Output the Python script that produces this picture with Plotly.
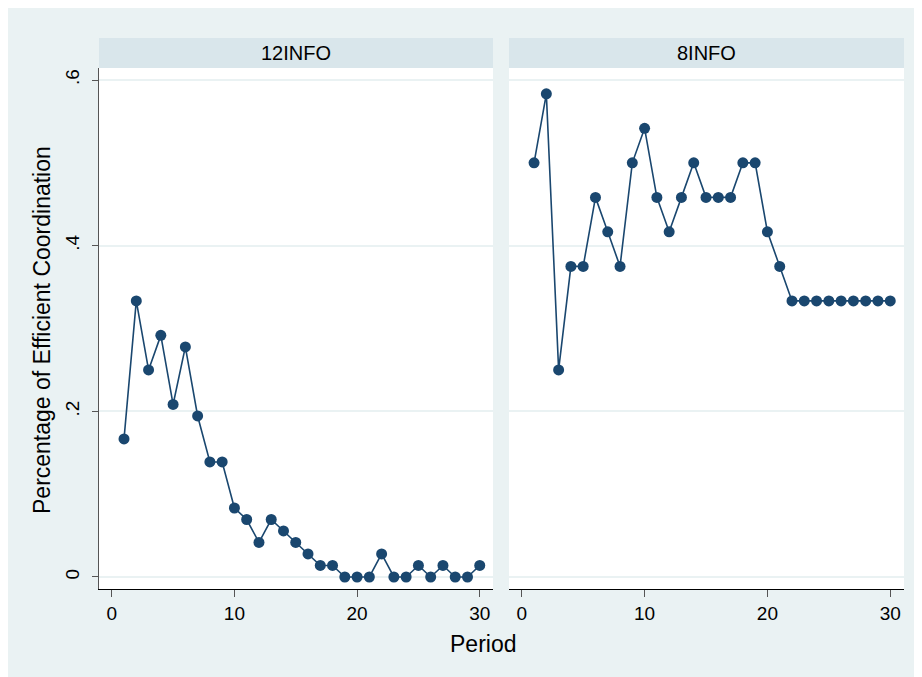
import plotly.graph_objects as go

periods = list(range(1, 31))
info12 = [0.1667, 0.3333, 0.25, 0.2917, 0.2083, 0.2778, 0.1944, 0.1389, 0.1389, 0.0833,
          0.0694, 0.0417, 0.0694, 0.0556, 0.0417, 0.0278, 0.0139, 0.0139, 0.0, 0.0,
          0.0, 0.0278, 0.0, 0.0, 0.0139, 0.0, 0.0139, 0.0, 0.0, 0.0139]
info8 = [0.5, 0.5833, 0.25, 0.375, 0.375, 0.4583, 0.4167, 0.375, 0.5, 0.5417,
         0.4583, 0.4167, 0.4583, 0.5, 0.4583, 0.4583, 0.4583, 0.5, 0.5, 0.4167,
         0.375, 0.3333, 0.3333, 0.3333, 0.3333, 0.3333, 0.3333, 0.3333, 0.3333, 0.3333]
panel_titles = ["12INFO", "8INFO"]
y_ticks = [0, 0.2, 0.4, 0.6]
y_ticklabels = ["0", ".2", ".4", ".6"]
x_ticks = [0, 10, 20, 30]

NAVY = "#1a476f"
BG = "#eaf2f3"
STRIP = "#d9e6eb"
GRID = "#eaf2f3"
FONT = "Liberation Sans, Arial, sans-serif"

OFF = 8  # page body margin
W, H = 922 - OFF, 677 - OFF
L, R = 99 - OFF, 922 - 904
T = 68 - OFF
B = H - (589 - OFF)
pw = W - L - R
ph = H - T - B

def px(xref_px):
    return (xref_px - OFF - L) / pw

def py(yref_px):
    return (H - B - (yref_px - OFF)) / ph

fig = go.Figure()
for i, vals in enumerate([info12, info8]):
    fig.add_trace(go.Scatter(
        x=periods, y=vals, mode="lines+markers",
        line=dict(color=NAVY, width=1.6),
        marker=dict(color=NAVY, size=11),
        xaxis="x" if i == 0 else "x2", yaxis="y" if i == 0 else "y2",
        showlegend=False, hoverinfo="x+y"))

xd1 = [0, px(493)]
xd2 = [px(509), 1]
xr1 = [-1.04, 31.08]
xr2 = [-1.04, 31.12]
yr = [-0.0145, 0.6145]

common_x = dict(
    tickvals=x_ticks, ticks="outside", ticklen=7, tickcolor="#555555", tickwidth=1.3,
    showline=True, linecolor="#000000", linewidth=1.3, showgrid=False, zeroline=False,
    tickfont=dict(family=FONT, size=19, color="#000000"))

fig.update_layout(
    width=W, height=H,
    margin=dict(l=L, r=R, t=T, b=B),
    paper_bgcolor=BG, plot_bgcolor="white",
    font=dict(family=FONT, color="#000000"),
    xaxis=dict(domain=xd1, range=xr1, anchor="y", **common_x),
    xaxis2=dict(domain=xd2, range=xr2, anchor="y2", **common_x),
    yaxis=dict(range=yr, tickvals=y_ticks, ticktext=y_ticklabels, tickangle=-90,
               ticks="outside", ticklen=6, tickcolor="#555555", tickwidth=1.3,
               ticklabelstandoff=5,
               showline=True, linecolor="#555555", linewidth=1.3,
               showgrid=True, gridcolor=GRID, gridwidth=1.5, zeroline=False,
               tickfont=dict(family=FONT, size=19, color="#000000"), anchor="x"),
    yaxis2=dict(range=yr, tickvals=y_ticks, showticklabels=False, ticks="",
                showline=False, showgrid=True, gridcolor=GRID, gridwidth=1.5,
                zeroline=False, anchor="x2", matches="y"),
)

shapes = []
annotations = []
strip_y0 = 1.0
strip_y1 = py(38)
for dom, title in zip([xd1, xd2], panel_titles):
    shapes.append(dict(type="rect", xref="paper", yref="paper",
                       x0=dom[0], x1=dom[1], y0=strip_y0, y1=strip_y1,
                       fillcolor=STRIP, line=dict(width=0), layer="below"))
    annotations.append(dict(text=title, xref="paper", yref="paper",
                            x=(dom[0] + dom[1]) / 2, y=(strip_y0 + strip_y1) / 2,
                            xanchor="center", yanchor="middle", showarrow=False,
                            font=dict(family=FONT, size=20, color="#000000")))

annotations.append(dict(text="Period", xref="paper", yref="paper",
                        x=px(483), y=py(644), xanchor="center", yanchor="middle",
                        showarrow=False, font=dict(family=FONT, size=23, color="#000000")))
annotations.append(dict(text="Percentage of Efficient Coordination", xref="paper", yref="paper",
                        x=px(42), y=py(330), xanchor="center", yanchor="middle",
                        textangle=-90, showarrow=False,
                        font=dict(family=FONT, size=23, color="#000000")))

fig.update_layout(shapes=shapes, annotations=annotations)
fig.write_html("out.html")
